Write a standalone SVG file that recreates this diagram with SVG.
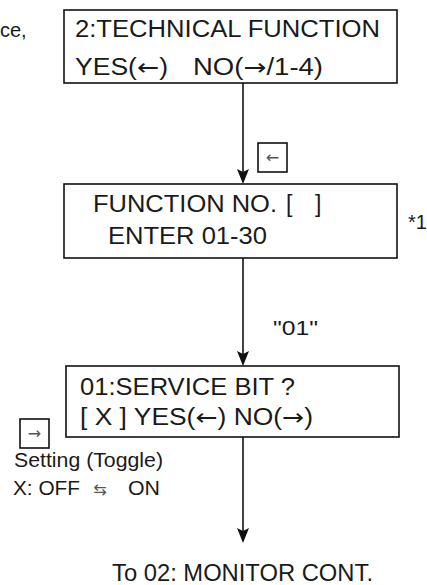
<svg xmlns="http://www.w3.org/2000/svg" width="427" height="585" viewBox="0 0 427 585">
<style>
.box{fill:#fff;stroke:#111;stroke-width:1.6}
.t{font-family:"Liberation Sans",Arial,sans-serif;font-size:23px;fill:#1a1a1a}
.s{font-family:"Liberation Sans",Arial,sans-serif;font-size:20px;fill:#1a1a1a}
.a{font-family:"DejaVu Sans",sans-serif}
.k{font-family:"DejaVu Sans",sans-serif;font-size:16px;fill:#555}
.ln{stroke:#111;stroke-width:1.6;fill:none}
.ah{fill:#111}
</style>
<rect width="427" height="585" fill="#fff"/>
<text class="s" x="0" y="37">ce,</text>
<text class="s" x="408" y="229" font-size="18">*1</text>
<g id="connectors">
<line class="ln" x1="243" y1="83" x2="243" y2="182"/>
<path class="ah" d="M237,169 L243,172 L249,169 L243,184 Z"/>
<line class="ln" x1="243" y1="258" x2="243" y2="364"/>
<path class="ah" d="M237,351 L243,354 L249,351 L243,366 Z"/>
<line class="ln" x1="243" y1="437" x2="243" y2="541"/>
<path class="ah" d="M237,528 L243,531 L249,528 L243,543 Z"/>
<text class="s" x="273" y="335" textLength="45" lengthAdjust="spacingAndGlyphs">"01"</text>
</g>
<g id="key-left">
<rect class="box" x="258" y="143" width="29" height="29"/>
<text class="k" x="272.5" y="163" text-anchor="middle">←</text>
</g>
<g id="node1">
<rect class="box" x="64" y="10" width="333" height="73"/>
<text class="t" x="75" y="37" textLength="305" lengthAdjust="spacingAndGlyphs">2:TECHNICAL FUNCTION</text>
<text class="t" x="75" y="75" textLength="93" lengthAdjust="spacingAndGlyphs">YES(<tspan class="a">←</tspan>)</text>
<text class="t" x="193" y="75" textLength="130" lengthAdjust="spacingAndGlyphs">NO(<tspan class="a">→</tspan>/1-4)</text>
</g>
<g id="node2">
<rect class="box" x="64" y="184" width="333" height="74"/>
<text class="t" x="93" y="212" textLength="184" lengthAdjust="spacingAndGlyphs">FUNCTION NO.</text>
<text class="t" x="286" y="212">[</text>
<text class="t" x="315" y="212">]</text>
<text class="t" x="108" y="244" textLength="159" lengthAdjust="spacingAndGlyphs">ENTER 01-30</text>
</g>
<g id="node3">
<rect class="box" x="66" y="366" width="333" height="71"/>
<text class="t" x="80" y="395" textLength="215" lengthAdjust="spacingAndGlyphs">01:SERVICE BIT ?</text>
<text class="t" x="80" y="425" textLength="233" lengthAdjust="spacingAndGlyphs">[ X ] YES(<tspan class="a">←</tspan>) NO(<tspan class="a">→</tspan>)</text>
</g>
<g id="key-toggle">
<rect class="box" x="20" y="419" width="29" height="29"/>
<text class="k" x="34.5" y="439" text-anchor="middle">→</text>
</g>
<g id="toggle-note">
<text class="s" x="14" y="467" textLength="149" lengthAdjust="spacingAndGlyphs">Setting (Toggle)</text>
<text class="s" x="13" y="495" textLength="67" lengthAdjust="spacingAndGlyphs">X: OFF</text>
<text class="k" x="100" y="495" text-anchor="middle" font-size="21">⇆</text>
<text class="s" x="128" y="495" textLength="32" lengthAdjust="spacingAndGlyphs">ON</text>
</g>
<g id="node-end">
<text class="t" x="112" y="581" textLength="261" lengthAdjust="spacingAndGlyphs">To 02: MONITOR CONT.</text>
</g>
</svg>
